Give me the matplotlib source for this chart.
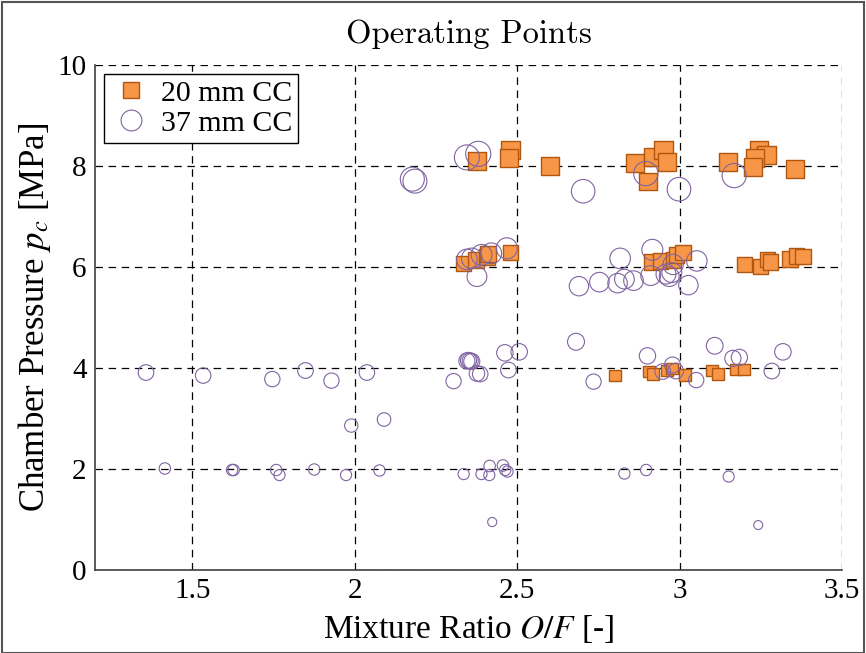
import numpy as np
import matplotlib
matplotlib.use("Agg")
import matplotlib.pyplot as plt
from matplotlib.lines import Line2D
from matplotlib.patches import Rectangle

plt.rcParams['font.family'] = ['Liberation Serif', 'DejaVu Serif']
plt.rcParams['mathtext.fontset'] = 'stix'

# 20 mm combustion chamber
of_20 = [2.376, 2.48, 2.475, 2.60, 2.863, 2.92, 2.95, 2.96, 2.903, 3.149, 3.245, 3.268, 3.232, 3.226, 3.355,
         2.335, 2.373, 2.407, 2.41, 2.48, 2.914, 2.94, 2.98, 2.99, 3.01, 3.20, 3.25, 3.27, 3.28, 3.34, 3.36, 3.38,
         2.802, 2.906, 2.919, 2.961, 2.976, 3.017, 3.101, 3.119, 3.173, 3.199]
pc_20 = [8.10, 8.32, 8.16, 8.00, 8.05, 8.18, 8.32, 8.08, 7.69, 8.08, 8.32, 8.22, 8.16, 7.98, 7.94,
         6.07, 6.14, 6.20, 6.26, 6.29, 6.10, 6.12, 6.14, 6.24, 6.29, 6.05, 6.00, 6.15, 6.10, 6.16, 6.22, 6.21,
         3.85, 3.93, 3.88, 3.95, 3.99, 3.86, 3.95, 3.88, 3.97, 3.97]

# 37 mm combustion chamber
of_37 = [2.345, 2.38, 2.177, 2.185, 2.896, 2.703, 2.998, 3.168,
         2.345, 2.36, 2.39, 2.42, 2.468, 2.376, 2.69, 2.753, 2.809, 2.83, 2.858, 2.817, 2.916, 2.911,
         2.958, 2.968, 2.976, 2.98, 3.027, 3.053,
         1.357, 1.533, 1.746, 1.848, 1.928, 2.037, 2.304, 2.345, 2.35, 2.355, 2.36, 2.376, 2.386, 2.462,
         2.506, 2.473, 2.681, 2.735, 2.901, 2.948, 2.978, 2.988, 3.051, 3.108, 3.164, 3.184, 3.284, 3.318,
         1.989, 2.09,
         1.415, 1.622, 1.627, 1.758, 1.768, 1.875, 1.973, 2.076, 2.335, 2.39, 2.415, 2.414, 2.456, 2.463,
         2.47, 2.83, 2.897, 3.151,
         2.423, 3.242]
pc_37 = [8.17, 8.24, 7.74, 7.70, 7.85, 7.50, 7.54, 7.81,
         6.15, 6.17, 6.24, 6.27, 6.37, 5.81, 5.62, 5.70, 5.68, 5.76, 5.73, 6.17, 6.34, 5.83,
         5.86, 5.81, 5.89, 6.05, 5.64, 6.12,
         3.91, 3.85, 3.78, 3.95, 3.75, 3.91, 3.74, 4.14, 4.15, 4.14, 4.13, 3.89, 3.88, 4.30,
         4.32, 3.96, 4.52, 3.73, 4.24, 3.93, 4.06, 3.94, 3.76, 4.44, 4.19, 4.21, 3.94, 4.32,
         2.86, 2.98,
         2.01, 1.98, 1.98, 1.98, 1.88, 1.99, 1.88, 1.97, 1.90, 1.90, 2.06, 1.88, 2.07, 1.98,
         1.95, 1.91, 1.98, 1.85,
         0.95, 0.89]

orange = '#F79646'
orange_edge = '#B0560F'
purple = '#8064A2'

fig = plt.figure(figsize=(8.66, 6.53), dpi=100)
ax = fig.add_axes([0.1097, 0.1271, 0.8626, 0.7734])

# marker size grows with chamber pressure (px -> pt at 100 dpi)
p20 = np.array(pc_20)
p37 = np.array(pc_37)
s20 = ((6 + 1.5 * p20) * 0.72) ** 2
s37 = ((2 * (3.5 + 1.1 * p37)) * 0.72) ** 2

ax.scatter(of_20, pc_20, s=s20, marker='s', facecolor=orange, edgecolor=orange_edge,
           linewidths=1.0, zorder=3)
ax.scatter(of_37, pc_37, s=s37, marker='o', facecolor='none', edgecolor=purple,
           linewidths=0.8, zorder=4)

ax.set_xlim(1.2, 3.5)
ax.set_ylim(0, 10)
ax.set_xticks([1.5, 2, 2.5, 3, 3.5])
ax.set_xticklabels(['1.5', '2', '2.5', '3', '3.5'])
ax.set_yticks([0, 2, 4, 6, 8, 10])
ax.grid(True, color='black', linestyle=(0, (6, 4.5)), linewidth=0.9)
ax.set_axisbelow(True)
for side in ['top', 'right']:
    ax.spines[side].set_visible(False)
for side in ['left', 'bottom']:
    ax.spines[side].set_color('#404040')
    ax.spines[side].set_linewidth(1.2)
ax.tick_params(direction='in', length=0, labelsize=21, pad=6)

ax.set_xlabel('Mixture Ratio $O/F$ [-]', fontsize=24, labelpad=6)
ax.set_ylabel('Chamber Pressure $p_c$ [MPa]', fontsize=25, labelpad=3)
ax.set_title('Operating Points', fontsize=23.5, family='cmr10', pad=16)

handles = [
    Line2D([], [], linestyle='none', marker='s', markersize=11, markerfacecolor=orange,
           markeredgecolor=orange_edge, markeredgewidth=1.0),
    Line2D([], [], linestyle='none', marker='o', markersize=15, markerfacecolor='none',
           markeredgecolor=purple, markeredgewidth=0.8),
]
leg = ax.legend(handles, ['20 mm CC', '37 mm CC'], loc='upper left', fontsize=21.5,
                fancybox=False, framealpha=1, edgecolor='black', borderpad=0.2,
                handletextpad=0.3, labelspacing=0.1, handlelength=1.4,
                bbox_to_anchor=(0.0, 1.0), borderaxespad=0.3)
leg.get_frame().set_linewidth(1.0)

fig.patches.append(Rectangle((0.002, 0.0), 0.996, 0.997, transform=fig.transFigure,
                             fill=False, edgecolor='#555555', linewidth=1.5))

fig.savefig('out.png', dpi=100)
